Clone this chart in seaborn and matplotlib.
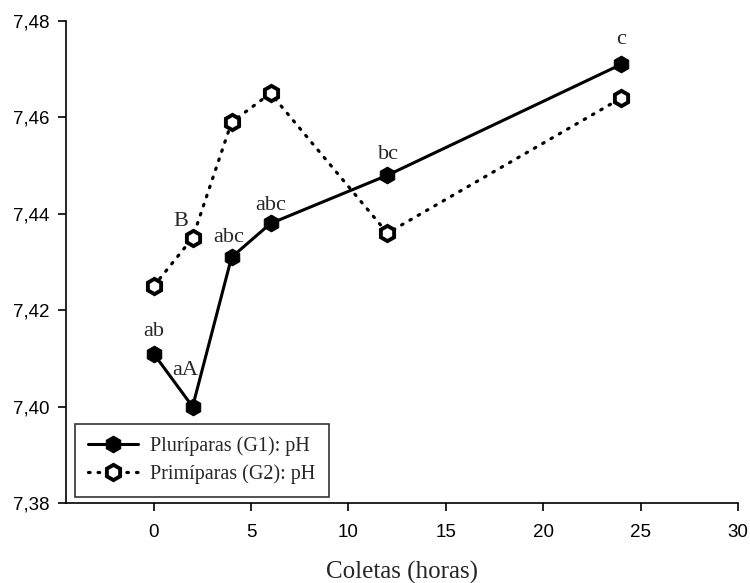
import matplotlib
matplotlib.use("Agg")
import matplotlib.pyplot as plt
import seaborn as sns
import pandas as pd
from matplotlib.ticker import FuncFormatter, MultipleLocator

horas = [0, 2, 4, 6, 12, 24]
ph_g1 = [7.411, 7.400, 7.431, 7.438, 7.448, 7.471]
ph_g2 = [7.425, 7.435, 7.459, 7.465, 7.436, 7.464]
letras_g1 = ["ab", "aA", "abc", "abc", "bc", "c"]
letras_g2 = ["", "B", "", "", "", ""]
nome_g1 = "Pluríparas (G1): pH"
nome_g2 = "Primíparas (G2): pH"

sns.set_style("ticks")
plt.rcParams["font.family"] = ["Liberation Sans", "DejaVu Sans"]
serif = ["Liberation Serif", "DejaVu Serif"]

fig = plt.figure(figsize=(7.5, 5.83), dpi=100)
ax = fig.add_axes([0.088, 0.137, 0.896, 0.827])

df = pd.DataFrame({"horas": horas, "g1": ph_g1, "g2": ph_g2})
sns.lineplot(data=df, x="horas", y="g1", ax=ax, color="black", lw=2.2,
             marker="h", markersize=12, markerfacecolor="black",
             markeredgecolor="black", label=nome_g1)
sns.lineplot(data=df, x="horas", y="g2", ax=ax, color="black", lw=2.3,
             linestyle=(0, (0.5, 2.5)), dash_capstyle="round",
             marker="h", markersize=11, markerfacecolor="white",
             markeredgecolor="black", markeredgewidth=2.8, label=nome_g2)

# letters of significance above each point (offsets in points)
off_g1 = [(0, 13), (-5, 23), (-2, 11), (0, 9.5), (1, 12), (0, 14.5)]
off_g2 = [(0, 10), (-8.5, 8.5), (0, 10), (0, 10), (0, 10), (0, 10)]
for x, y, t, (dx, dy) in zip(horas, ph_g1, letras_g1, off_g1):
    ax.annotate(t, (x, y), xytext=(dx, dy), textcoords="offset points",
                ha="center", va="baseline", fontsize=16, family=serif)
for x, y, t, (dx, dy) in zip(horas, ph_g2, letras_g2, off_g2):
    if t:
        ax.annotate(t, (x, y), xytext=(dx, dy), textcoords="offset points",
                    ha="center", va="baseline", fontsize=16, family=serif)

ax.set_xlim(-4.5, 30)
ax.set_ylim(7.38, 7.48)
ax.set_xticks([0, 5, 10, 15, 20, 25, 30])
ax.yaxis.set_major_locator(MultipleLocator(0.02))
ax.yaxis.set_major_formatter(FuncFormatter(lambda v, p: f"{v:.2f}".replace(".", ",")))
ax.tick_params(axis="both", labelsize=13.5, direction="out", length=6, width=1.2,
               colors="black", pad=6)
ax.tick_params(axis="x", pad=9)
for s in ["left", "bottom"]:
    ax.spines[s].set_linewidth(1.2)
    ax.spines[s].set_color("black")
sns.despine(ax=ax)

ax.set_xlabel("Coletas (horas)", fontsize=18, family=serif, labelpad=14)
ax.set_ylabel("")

leg = ax.legend(loc="lower left", bbox_to_anchor=(0.013, 0.012), frameon=True,
                fancybox=False, edgecolor="black", prop={"family": serif, "size": 14.5},
                handlelength=2.5, handletextpad=0.6, borderpad=0.65,
                labelspacing=0.4, borderaxespad=0.0)
leg.get_frame().set_linewidth(1.2)

fig.savefig("out.png", dpi=100)
